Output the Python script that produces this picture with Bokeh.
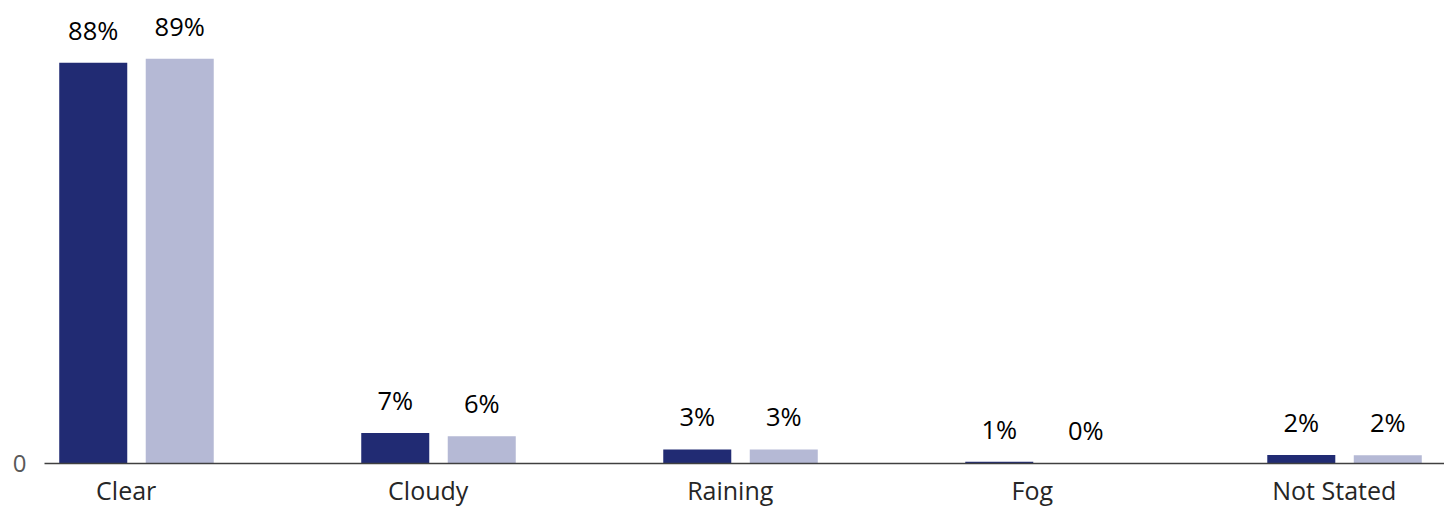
from bokeh.plotting import figure
from bokeh.models import ColumnDataSource, Range1d, FixedTicker, LinearAxis
from bokeh.transform import dodge
from bokeh.core.properties import value
from bokeh.embed import file_html
from bokeh.resources import INLINE

categories = ["Clear", "Cloudy", "Raining", "Fog", "Not Stated"]
series_a = [88.1, 6.7, 3.1, 0.4, 1.85]
series_b = [89.0, 6.0, 3.1, 0.05, 1.8]
labels_a = ["88%", "7%", "3%", "1%", "2%"]
labels_b = ["89%", "6%", "3%", "0%", "2%"]

DARK = "#212B73"
LIGHT = "#B5B9D5"
FONT = "Open Sans"

src = ColumnDataSource(dict(
    x=list(range(len(categories))),
    a=series_a, b=series_b, la=labels_a, lb=labels_b,
))

X0, X1 = -0.3046, 4.331
p = figure(width=1444, height=531, output_backend="svg", toolbar_location=None,
           x_range=Range1d(X0, X1), y_range=Range1d(0, 101.8),
           x_axis_location=None,
           min_border_left=44, min_border_right=0, min_border_top=0, min_border_bottom=68)
p.outline_line_color = None
p.xgrid.visible = False
p.ygrid.visible = False
p.background_fill_color = "white"
p.border_fill_color = "white"

off = 0.1432
w = 0.2252
p.vbar(x=dodge("x", -off), top="a", width=w, bottom=0, source=src, fill_color=DARK, line_color=None)
p.vbar(x=dodge("x", off), top="b", width=w, bottom=0, source=src, fill_color=LIGHT, line_color=None)

for col, lab in ((-off, "la"), (off, "lb")):
    p.text(x=dodge("x", col), y="a" if lab == "la" else "b", text=lab, source=src,
           text_align="center", text_baseline="alphabetic", y_offset=-33,
           text_font=value(FONT), text_font_size="25.5px", text_color="#000000")

# category axis, labels sit slightly left of the bar-group centres as in the reference
shift = 0.034
p.extra_x_ranges = {"lab": Range1d(X0 + shift, X1 + shift)}
xa = LinearAxis(x_range_name="lab")
xa.ticker = FixedTicker(ticks=list(range(len(categories))))
xa.major_label_overrides = {i: c for i, c in enumerate(categories)}
xa.major_tick_line_color = None
xa.minor_tick_line_color = None
xa.axis_line_color = "#404040"
xa.axis_line_width = 1.5
xa.major_label_text_font = FONT
xa.major_label_text_font_size = "25px"
xa.major_label_text_color = "#262626"
xa.major_label_standoff = 3
p.add_layout(xa, "below")

p.yaxis.ticker = FixedTicker(ticks=[0])
p.yaxis.axis_line_color = None
p.yaxis.major_tick_line_color = None
p.yaxis.minor_tick_line_color = None
p.yaxis.major_label_text_font = FONT
p.yaxis.major_label_text_font_size = "24px"
p.yaxis.major_label_text_color = "#595959"
p.yaxis.major_label_standoff = 12

open("out.html", "w").write(file_html(p, INLINE))
